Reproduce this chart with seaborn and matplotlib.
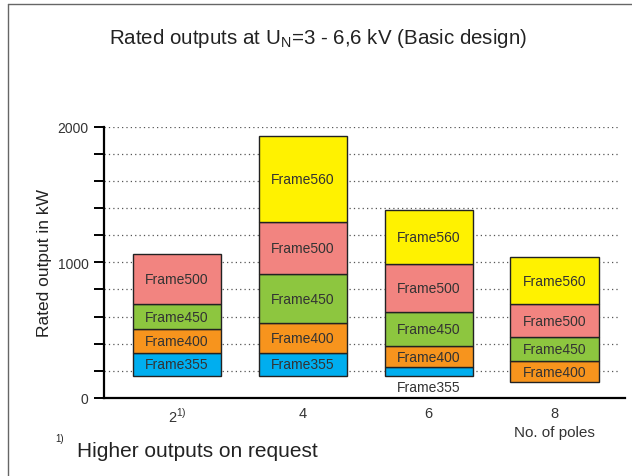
import numpy as np
import pandas as pd
import seaborn as sns
import matplotlib.pyplot as plt
from matplotlib.lines import Line2D
from matplotlib.ticker import MultipleLocator

# data (kW)
poles = ['2', '4', '6', '8']
base = [160, 160, 160, 120]          # lower limit of each column
frame355 = [175, 175, 70, 0]
frame400 = [170, 215, 150, 150]
frame450 = [185, 360, 255, 180]
frame500 = [370, 390, 350, 240]
frame560 = [0, 630, 400, 350]

frames = ['Frame355', 'Frame400', 'Frame450', 'Frame500', 'Frame560']
heights = [frame355, frame400, frame450, frame500, frame560]
colors = ['#00aeef', '#f7941d', '#8dc63f', '#f28480', '#fff200']

sns.set_theme(style="white")
plt.rcParams['font.family'] = ['Liberation Sans', 'DejaVu Sans']
plt.rcParams['mathtext.fontset'] = 'custom'
plt.rcParams['mathtext.rm'] = 'Liberation Sans'

fig = plt.figure(figsize=(6.32, 4.77), dpi=100)
ax = fig.add_axes([104 / 632, 1 - 399 / 477, 521 / 632, 271.5 / 477])

bottom = np.array(base, dtype=float)
for name, h, col in zip(frames, heights, colors):
    h = np.array(h, dtype=float)
    df = pd.DataFrame({'poles': poles, 'kw': h, 'bottom': bottom})
    df = df[df['kw'] > 0]
    sns.barplot(data=df, x='poles', y='kw', order=poles, color=col, width=0.7,
                bottom=df['bottom'].values, edgecolor='#222222', linewidth=1,
                saturation=1, zorder=3, ax=ax)
    for i, row in df.iterrows():
        if name == 'Frame355' and row['kw'] < 120:
            ax.text(i, row['bottom'] - 80, name, ha='center', va='center',
                    fontsize=10, color='#333333', zorder=4)
        else:
            ax.text(i, row['bottom'] + row['kw'] / 2, name, ha='center', va='center',
                    fontsize=10, color='#333333', zorder=4)
    bottom = bottom + h

ax.set_xlim(-0.58, 3.56)
ax.set_ylim(0, 2000)
ax.yaxis.set_major_locator(MultipleLocator(1000))
ax.yaxis.set_minor_locator(MultipleLocator(200))
ax.grid(False)
for y in np.arange(200, 2001, 200):
    ax.axhline(y, xmax=0.99, color='#555555', linestyle=(0, (1, 2.5)), linewidth=0.9, zorder=1)

ax.tick_params(axis='y', which='both', direction='out', length=7, width=1.4,
               color='black', left=True, labelsize=10, pad=4)
ax.tick_params(axis='x', length=0, labelsize=10.5, pad=6)
ax.set_xticks(range(4))
ax.set_xticklabels([r'2$^{1)}$', '4', '6', '8'], color='#333333')
for lab in ax.get_yticklabels():
    lab.set_color('#333333')

for s in ['top', 'right']:
    ax.spines[s].set_visible(False)
ax.spines['left'].set_color('black')
ax.spines['left'].set_linewidth(1.6)
ax.spines['bottom'].set_color('black')
ax.spines['bottom'].set_linewidth(1.6)

ax.set_xlabel('')
ax.set_ylabel('Rated output in kW', fontsize=12.5, color='#222222', labelpad=4)

fig.text(318 / 632, 1 - 38 / 477, r'Rated outputs at U$_\mathregular{N}$=3 - 6,6 kV (Basic design)',
         ha='center', va='center', fontsize=14.8, color='#222222')
fig.text(554 / 632, 1 - 433 / 477, 'No. of poles', ha='center', va='center',
         fontsize=11, color='#333333')
fig.text(55 / 632, 1 - 439 / 477, '1)', ha='left', va='center', fontsize=7, color='#222222')
fig.text(77 / 632, 1 - 452 / 477, 'Higher outputs on request', ha='left', va='center',
         fontsize=15, color='#222222')

# partial frame around the figure
fig.add_artist(Line2D([8 / 632, 8 / 632], [0, 1 - 5 / 477], transform=fig.transFigure,
                      color='#666666', linewidth=1))
fig.add_artist(Line2D([8 / 632, 1], [1 - 5 / 477, 1 - 5 / 477], transform=fig.transFigure,
                      color='#666666', linewidth=1))

fig.savefig('out.png', dpi=100)
